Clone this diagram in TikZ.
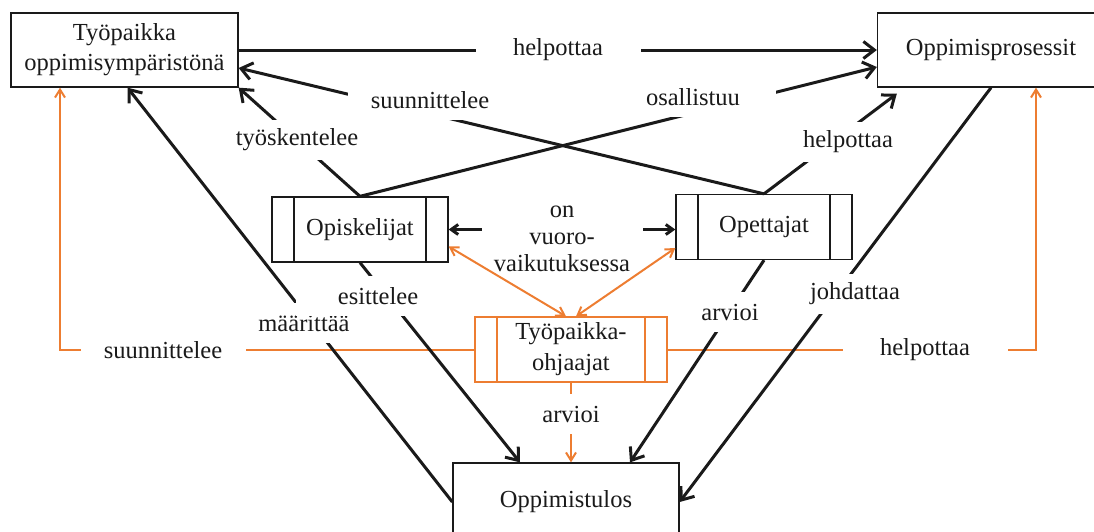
\documentclass[tikz,border=0pt]{standalone}
\usepackage{fontspec}
\setmainfont{Liberation Serif}
\usetikzlibrary{arrows.meta,calc,positioning}
\definecolor{KaaviMusta}{HTML}{1A1A1A}
\definecolor{KaaviOranssi}{HTML}{ED7D31}

\begin{document}
\begin{tikzpicture}[
  x=1pt,y=-1pt,font=\fontsize{24.5}{30}\selectfont,text=KaaviMusta,
  laatikko/.style={draw=KaaviMusta,fill=white,line width=1.3pt,
    minimum width=227pt,minimum height=74pt,inner sep=0pt,align=center},
  predef/.style={draw=#1,fill=white,line width=1.3pt,minimum height=65pt,
    inner sep=0pt,align=center,
    path picture={
      \draw[#1,line width=1.3pt]
        ([xshift=22pt]path picture bounding box.south west) --
        ([xshift=22pt]path picture bounding box.north west)
        ([xshift=-22pt]path picture bounding box.south east) --
        ([xshift=-22pt]path picture bounding box.north east);}},
  predef/.default=KaaviMusta,
  nuoli/.style={draw=KaaviMusta,line width=3pt,
    -{Straight Barb[length=11pt,width=17pt]}},
  kaksoisnuoli/.style={draw=KaaviMusta,line width=3pt,
    {Straight Barb[length=7pt,width=10pt]}-{Straight Barb[length=7pt,width=10pt]}},
  oranssi/.style={draw=KaaviOranssi,line width=2pt,
    -{Straight Barb[length=8pt,width=10pt]}},
  oranssi2/.style={oranssi,
    {Straight Barb[length=8pt,width=10pt]}-{Straight Barb[length=8pt,width=10pt]}},
  suhde/.style={fill=white,minimum width=165pt,minimum height=40pt,inner sep=0pt}
]
\useasboundingbox (0,0) rectangle (1094,531);
\clip (0,0) rectangle (1094,531);

% toimijat ja kohteet
\node[laatikko] (ymparisto) at (124.5,50) {Työpaikka\\oppimisympäristönä};
\node[laatikko] (prosessit) at (991,50) {Oppimisprosessit};
\node[predef,minimum width=176pt] (opiskelijat) at (360,229.5) {Opiskelijat};
\node[predef,minimum width=176pt] (opettajat) at (764,227) {Opettajat};
\node[predef=KaaviOranssi,minimum width=192pt,
  font=\fontsize{24.5}{31}\selectfont] (ohjaajat) at (571,349.5)
  {Työpaikka-\\ohjaajat};
\node[laatikko,minimum width=226pt,minimum height=78pt] (tulos) at (566,502)
  {Oppimistulos};

% ohjaajien yhteydet
\draw[oranssi] (ohjaajat.west) -| ([xshift=-64.5pt]ymparisto.south);
\node[suhde] (osuunnittelee) at (163,350) {suunnittelee};
\draw[oranssi] (ohjaajat.east) -| ([xshift=45pt]prosessit.south);
\node[suhde] (ohelpottaa) at (925,350) {helpottaa};
\draw[oranssi] (ohjaajat.south) -- (ohjaajat.south |- tulos.north);
\node[suhde] (oarvioi) at (571,414) {arvioi};

% mustat yhteydet
\draw[nuoli] (ymparisto.east) -- (prosessit.west);
\node[suhde] (helpottaa) at (558,50) {helpottaa};
\draw[nuoli] (opettajat.north) -- ([yshift=-18pt]ymparisto.east);
\node[suhde] (suunnittelee) at (430,100) {suunnittelee};
\draw[nuoli] (opiskelijat.north) -- (ymparisto.south east);
\node[suhde] (tyoskentelee) at (297,140) {työskentelee};
\draw[nuoli] (opiskelijat.north) -- ([yshift=-17pt]prosessit.west);
\node[suhde] (osallistuu) at (693,97) {osallistuu};
\draw[nuoli] (opettajat.north) -- ([xshift=20pt,yshift=-6pt]prosessit.south west);
\node[suhde] (helpottaa2) at (848,142) {helpottaa};
\draw[kaksoisnuoli] (opiskelijat.east) -- (opiskelijat.east -| opettajat.west);
\node[suhde,minimum width=161pt,align=center,
  font=\fontsize{24.5}{27}\selectfont] (vuoro) at (562,239)
  {on\\vuoro-\\vaikutuksessa};
\draw[nuoli] (tulos.west) -- ([xshift=3pt]ymparisto.south);
\node[suhde] (maarittaa) at (304,323) {määrittää};
\draw[nuoli] (opiskelijat.south) -- ([xshift=-46pt]tulos.north);
\node[suhde] (esittelee) at (378,296) {esittelee};
\draw[nuoli] (opettajat.south) -- ([xshift=64pt]tulos.north);
\node[suhde,minimum width=100pt] (arvioi) at (730,312) {arvioi};
\draw[nuoli] (prosessit.south) -- (tulos.east);
\node[suhde] (johdattaa) at (855,294) {johdattaa};

% vuorovaikutus ohjaajien kanssa
\draw[oranssi2] ([xshift=-5pt]ohjaajat.north) -- ([yshift=-17pt]opiskelijat.east);
\draw[oranssi2] ([xshift=5pt]ohjaajat.north) -- ([yshift=-21pt]opettajat.west);

\end{tikzpicture}
\end{document}
